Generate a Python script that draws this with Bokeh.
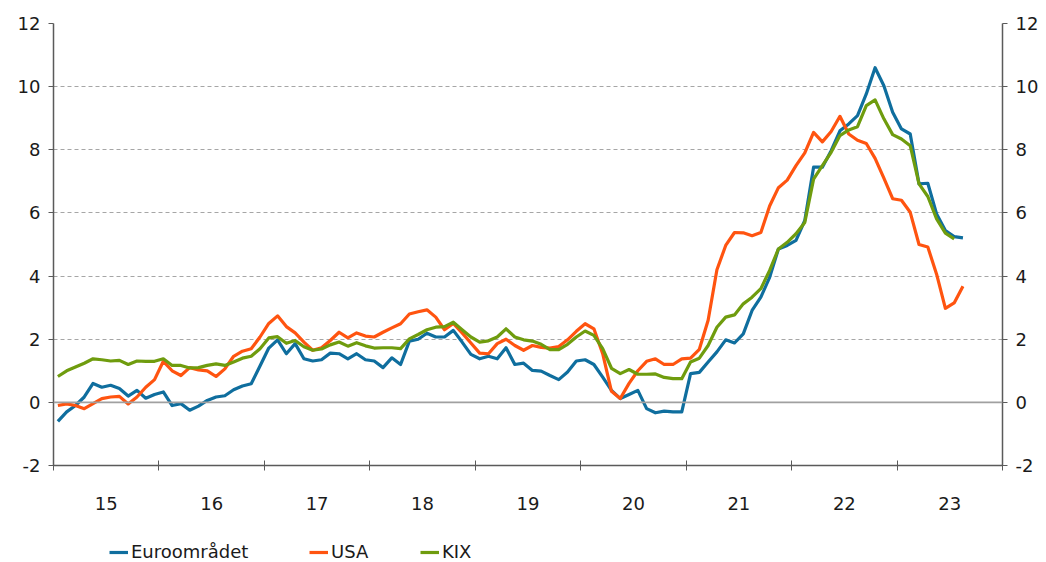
from bokeh.plotting import figure
from bokeh.layouts import column
from bokeh.models import Range1d, LinearAxis, FixedTicker, Span, Legend, LegendItem
from bokeh.embed import file_html
from bokeh.resources import INLINE

# ---- data (monthly, Jan 2015 onwards, annual % change) ----
year_labels = ["15", "16", "17", "18", "19", "20", "21", "22", "23"]
y_tick_values = [-2, 0, 2, 4, 6, 8, 10, 12]

euro = [
    -0.6, -0.3, -0.1, 0.17, 0.6, 0.48, 0.54, 0.44, 0.2, 0.38, 0.13, 0.25,
    0.33, -0.1, -0.04, -0.25, -0.12, 0.06, 0.17, 0.21, 0.4, 0.52, 0.59, 1.15,
    1.72, 1.98, 1.54, 1.86, 1.38, 1.31, 1.35, 1.56, 1.54, 1.38, 1.54, 1.35,
    1.31, 1.1, 1.41, 1.2, 1.94, 2.0, 2.19, 2.07, 2.07, 2.28, 1.91, 1.52,
    1.38, 1.46, 1.38, 1.73, 1.2, 1.24, 1.01, 0.99, 0.85, 0.72, 0.96, 1.31,
    1.35, 1.2, 0.8, 0.38, 0.12, 0.25, 0.38, -0.2, -0.33, -0.28, -0.3, -0.3,
    0.91, 0.95, 1.28, 1.6, 1.98, 1.88, 2.17, 2.91, 3.33, 3.96, 4.86, 4.97,
    5.13, 5.76, 7.45, 7.45, 7.97, 8.6, 8.82, 9.08, 9.77, 10.6, 10.03, 9.19,
    8.66, 8.5, 6.92, 6.94, 5.97, 5.44, 5.25, 5.21,
]

usa = [
    -0.1, -0.05, -0.1, -0.2, -0.04, 0.12, 0.17, 0.19, -0.05, 0.17, 0.48, 0.72,
    1.3, 1.0, 0.85, 1.1, 1.03, 1.0, 0.82, 1.06, 1.46, 1.62, 1.7, 2.07,
    2.5, 2.74, 2.4, 2.2, 1.91, 1.65, 1.73, 1.96, 2.22, 2.04, 2.2, 2.1,
    2.07, 2.22, 2.36, 2.49, 2.8, 2.87, 2.93, 2.7, 2.3, 2.5, 2.2, 1.88,
    1.56, 1.54, 1.86, 2.0, 1.8, 1.65, 1.8, 1.74, 1.72, 1.77, 1.98, 2.25,
    2.49, 2.33, 1.54, 0.35, 0.12, 0.6, 1.0, 1.3, 1.38, 1.2, 1.2, 1.38,
    1.4, 1.68, 2.6, 4.2, 4.97, 5.38, 5.37, 5.28, 5.38, 6.22, 6.8, 7.04,
    7.5, 7.9, 8.55, 8.25, 8.58, 9.06, 8.5, 8.3, 8.2, 7.73, 7.1, 6.45,
    6.4, 6.02, 5.0, 4.92, 4.06, 2.98, 3.15, 3.68,
]

kix = [
    0.82, 1.0, 1.12, 1.24, 1.38, 1.35, 1.31, 1.33, 1.2, 1.31, 1.3, 1.3,
    1.38, 1.17, 1.17, 1.09, 1.1, 1.17, 1.22, 1.17, 1.28, 1.4, 1.46, 1.7,
    2.04, 2.08, 1.87, 1.96, 1.76, 1.65, 1.69, 1.82, 1.91, 1.78, 1.89, 1.79,
    1.72, 1.73, 1.73, 1.7, 2.01, 2.15, 2.3, 2.38, 2.4, 2.54, 2.3, 2.07,
    1.91, 1.95, 2.07, 2.33, 2.07, 1.98, 1.94, 1.84, 1.67, 1.67, 1.84, 2.07,
    2.26, 2.12, 1.7, 1.08, 0.91, 1.04, 0.89, 0.89, 0.9, 0.79, 0.75, 0.75,
    1.28, 1.4, 1.8, 2.38, 2.7, 2.77, 3.12, 3.33, 3.6, 4.18, 4.86, 5.07,
    5.34, 5.7, 7.07, 7.5, 7.92, 8.45, 8.63, 8.73, 9.4, 9.58, 8.98, 8.48,
    8.34, 8.13, 6.92, 6.52, 5.81, 5.36, 5.18,
]

series_names = ["Euroområdet", "USA", "KIX"]
series_colors = ["#0f6e9e", "#ff5410", "#6f9c0e"]

FONT = "DejaVu Sans"
TXT = "#1a1a1a"
AX = "#5a5a5a"

p = figure(width=1046, height=525, output_backend="svg", toolbar_location=None,
           x_range=Range1d(0, 108), y_range=Range1d(-2, 12),
           min_border_left=53, min_border_right=44, min_border_top=23,
           min_border_bottom=60)
p.outline_line_color = None
p.background_fill_color = "white"
p.border_fill_color = "white"

# grid
p.xgrid.visible = False
p.ygrid.ticker = FixedTicker(ticks=[2, 4, 6, 8, 10, 12])
p.ygrid.grid_line_color = "#a6a6a6"
p.ygrid.grid_line_dash = "4 3"
p.ygrid.grid_line_width = 1.2
p.add_layout(Span(location=0, dimension="width", line_color="#a0a0a0", line_width=1.8))

# y axes
ylab = {v: str(v) for v in y_tick_values}
def style_y(ax):
    ax.ticker = FixedTicker(ticks=y_tick_values)
    ax.major_label_overrides = ylab
    ax.axis_line_color = AX
    ax.axis_line_width = 1.5
    ax.major_tick_line_color = AX
    ax.major_tick_in = 0
    ax.major_tick_out = 5
    ax.minor_tick_line_color = None
    ax.major_label_text_font = FONT
    ax.major_label_text_font_size = "18px"
    ax.major_label_text_color = TXT
    ax.major_label_standoff = 8

style_y(p.yaxis[0])
right = LinearAxis()
style_y(right)
p.add_layout(right, "right")

# x axis: labels at year centres, ticks at year boundaries
xa = p.xaxis[0]
centres = [6 + 12 * i for i in range(len(year_labels))]
bounds = [12 * i for i in range(len(year_labels) + 1)]
xa.ticker = FixedTicker(ticks=centres, minor_ticks=bounds)
xa.major_label_overrides = {c: l for c, l in zip(centres, year_labels)}
xa.axis_line_color = AX
xa.axis_line_width = 1.5
xa.major_tick_line_color = None
xa.major_tick_in = 0
xa.major_tick_out = 0
xa.minor_tick_line_color = AX
xa.minor_tick_line_width = 1
xa.minor_tick_in = 5
xa.minor_tick_out = 5
xa.major_label_text_font = FONT
xa.major_label_text_font_size = "18px"
xa.major_label_text_color = TXT
xa.major_label_standoff = 26

for data, col in zip([euro, usa, kix], series_colors):
    xs = [i + 0.5 for i in range(len(data))]
    p.line(xs, data, line_color=col, line_width=3.2, line_join="round")

# legend strip below the chart
lf = figure(width=1046, height=37, output_backend="svg", toolbar_location=None,
            x_range=Range1d(0, 1), y_range=Range1d(0, 1),
            min_border_left=0, min_border_right=0, min_border_top=0,
            min_border_bottom=0)
lf.axis.visible = False
lf.grid.visible = False
lf.outline_line_color = None
lf.background_fill_color = "white"
lf.border_fill_color = "white"

legend_x = [56, 256, 367]
for name, col, lx in zip(series_names, series_colors, legend_x):
    r = lf.line([-5, -4], [-5, -5], line_color=col, line_width=3.2)
    lg = Legend(items=[LegendItem(label=name, renderers=[r])],
                location=(lx, 0), orientation="horizontal",
                padding=0, margin=0, spacing=0,
                glyph_width=19, glyph_height=20, label_height=20,
                label_standoff=3,
                label_text_font=FONT, label_text_font_size="18px",
                label_text_color=TXT,
                background_fill_alpha=0, border_line_color=None)
    lf.add_layout(lg, "center")

layout = column(p, lf, spacing=0)
open("out.html", "w").write(file_html(layout, INLINE))
